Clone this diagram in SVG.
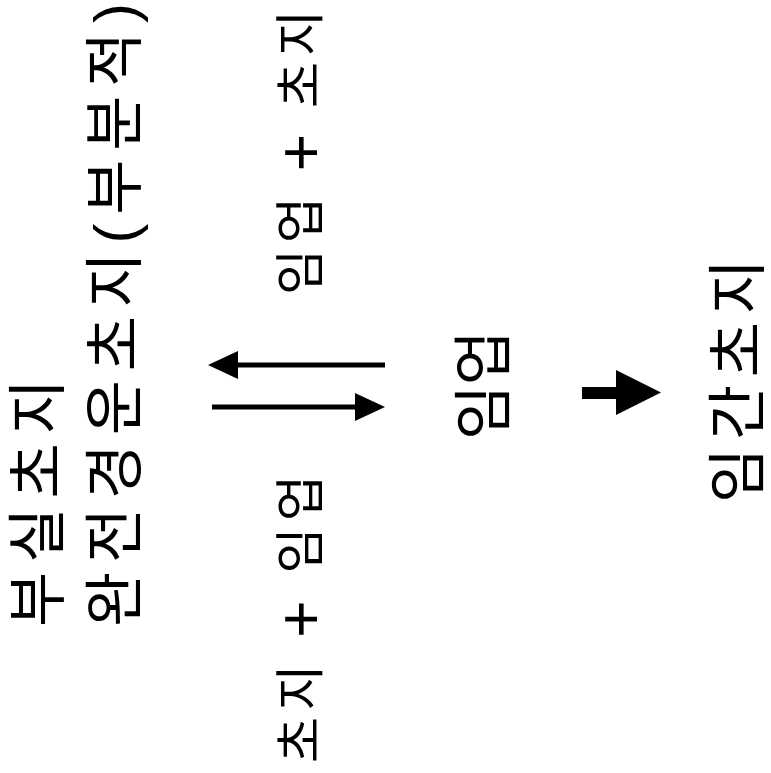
<svg xmlns="http://www.w3.org/2000/svg" width="771" height="773" viewBox="0 0 771 773">
<style>
.t{font-family:"Liberation Sans","Noto Sans CJK KR",sans-serif;fill:#000;dominant-baseline:central;text-anchor:start}
.big{font-size:60px}
.mid{font-size:50px}
.pl{font-size:64px}
.ln{stroke:#000;stroke-width:5;fill:none}
</style>
<defs>
<marker id="ah" markerUnits="userSpaceOnUse" markerWidth="32" markerHeight="30" viewBox="0 0 32 30" refX="2" refY="14" orient="auto">
<path d="M0,0 L30,14 L0,28 Z" fill="#000"/>
</marker>
</defs>
<rect width="771" height="773" fill="#fff"/>
<g id="node-busil">
<text class="t big" transform="translate(38,627) rotate(-90)" textLength="248" lengthAdjust="spacing">부실초지</text>
</g>
<g id="node-wanjeon">
<text class="t big" transform="translate(115,627) rotate(-90)" textLength="624" lengthAdjust="spacing">완전경운초지(부분적)</text>
</g>
<g id="node-imup">
<text class="t big" transform="translate(484,440) rotate(-90)" textLength="110" lengthAdjust="spacing">임업</text>
</g>
<g id="node-imgan">
<text class="t big" transform="translate(738,503) rotate(-90)" textLength="244" lengthAdjust="spacing">임간초지</text>
</g>
<g id="connectors">
<line class="ln" x1="385" y1="365" x2="236" y2="365" marker-end="url(#ah)"/>
<line class="ln" x1="212" y1="407" x2="357" y2="407" marker-end="url(#ah)"/>
<text class="t mid" transform="translate(301,295) rotate(-90)" textLength="285" lengthAdjust="spacing">임업 <tspan class="pl">+</tspan> 초지</text>
<text class="t mid" transform="translate(301,763) rotate(-90)" textLength="288" lengthAdjust="spacing">초지 <tspan class="pl">+</tspan> 임업</text>
<path d="M582,387 H616 V370 L661,392.5 L616,415 V399 H582 Z" fill="#000"/>
</g>
</svg>
